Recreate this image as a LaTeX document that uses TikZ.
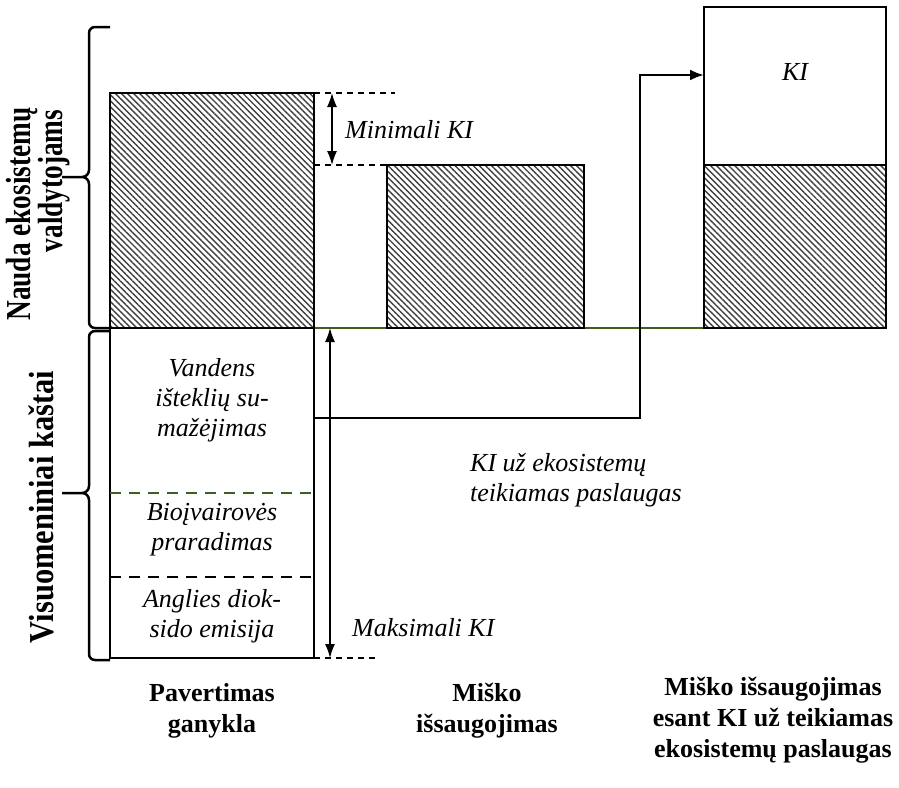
\documentclass[tikz,border=0pt]{standalone}
\usepackage{fontspec}
\setmainfont{Liberation Serif}
\newfontfamily\tallserif[FakeStretch=0.78]{Liberation Serif}
\newfontfamily\tallserifb[FakeStretch=0.87]{Liberation Serif}
\usetikzlibrary{arrows.meta,patterns.meta}
\definecolor{dkgreen}{RGB}{62,94,34}

\tikzset{
  bar/.style={draw,line width=2.5pt,anchor=north west,inner sep=0pt,outer sep=0pt},
  hatched/.style={bar,pattern={Lines[angle=-45,distance=4.3pt,line width=1.4pt]},pattern color=black!75},
  guide/.style={line width=1.2pt,dash pattern=on 6pt off 5pt},
  dim/.style={line width=1.3pt,{Latex[length=14pt,width=10pt]}-{Latex[length=14pt,width=10pt]}},
  sep/.style={line width=2.5pt,dash pattern=on 11pt off 8pt},
  brc/.style={line width=2.5pt,line join=round},
  lbl/.style={font=\fontsize{26}{30}\selectfont\itshape,align=center,inner sep=0pt},
  head/.style={font=\fontsize{26}{31}\selectfont\bfseries,align=center,inner sep=0pt},
  side/.style={font=\tallserif\fontsize{35}{32}\selectfont\bfseries,inner sep=0pt,rotate=90}
}

\begin{document}
\begin{tikzpicture}[x=1pt,y=-1pt]
  \useasboundingbox (0,0) rectangle (899,787);

  %% green base line (under the bars)
  \coordinate (basew) at (314,328);
  \coordinate (basee) at (704,328);
  \draw[dkgreen,line width=2.8pt] (basew) -- (basee);

  %% bars
  \node[hatched,minimum width=204pt,minimum height=235pt] (pasture) at (110,93) {};
  \node[bar,minimum width=204pt,minimum height=330pt] (costs) at (110,328) {};
  \node[hatched,minimum width=197pt,minimum height=163pt] (forest) at (387,165) {};
  \node[hatched,minimum width=182pt,minimum height=163pt] (forestki) at (704,165) {};
  \node[bar,minimum width=182pt,minimum height=158pt] (kibox) at (704,7) {};
  \node[lbl] (ki) at (795,72) {KI};

  %% cost parts
  \coordinate (sepa) at (110,493);
  \coordinate (sepb) at (110,577);
  \draw[sep,dkgreen] (sepa) -- (sepa -| costs.east);
  \draw[sep] (sepb) -- (sepb -| costs.east);
  \node[lbl] (water) at (212,400) {Vandens\\išteklių su-\\mažėjimas};
  \node[lbl] (bio) at (212,530) {Bioįvairovės\\praradimas};
  \node[lbl] (carbon) at (212,616) {Anglies diok-\\sido emisija};

  %% minimal and maximal KI
  \coordinate (mintop) at (332,93);
  \coordinate (minbot) at (332,165);
  \draw[guide] (pasture.north east) -- (395,93);
  \draw[guide] (pasture.east |- minbot) -- (395,165);
  \draw[dim] (mintop) -- (minbot);
  \node[lbl,anchor=west] (minki) at (345,130) {Minimali KI};

  \coordinate (maxtop) at (330,328);
  \coordinate (maxbot) at (330,658);
  \draw[guide] (costs.south east) -- (375,658);
  \draw[dim] (maxtop) -- (maxbot);
  \node[lbl,anchor=west] (maxki) at (352,628) {Maksimali KI};

  %% KI transfer
  \coordinate (kistart) at (314,418);
  \coordinate (kiturn) at (640,418);
  \coordinate (kiend) at (704,75);
  \draw[line width=2.5pt,-{Latex[length=14pt,width=11pt]}] (kistart) -- (kiturn) |- (kiend);
  \node[lbl,align=left,anchor=west] (kinote) at (470,480) {KI už ekosistemų\\teikiamas paslaugas};

  %% braces
  \draw[brc] (110,27) -- (95,27) to[out=180,in=90] (89,33) -- (89,170)
    to[out=-90,in=0] (82,177) -- (62,177) (82,177) to[out=0,in=90] (89,184)
    -- (89,322) to[out=-90,in=180] (95,328) -- (110,328);
  \draw[brc] (110,331) -- (95,331) to[out=180,in=90] (89,337) -- (89,486)
    to[out=-90,in=0] (82,493) -- (62,493) (82,493) to[out=0,in=90] (89,500)
    -- (89,654) to[out=-90,in=180] (95,660) -- (110,660);

  %% side labels
  \node[side] (benefit) at (22,214) {Nauda ekosistemų};
  \node[side] (benefitb) at (54,181) {valdytojams};
  \node[side,font=\tallserifb\fontsize{35}{32}\selectfont\bfseries] (social) at (41,507) {Visuomeniniai kaštai};

  %% column titles
  \node[head] (t1) at (212,711) {Pavertimas\\ganykla};
  \node[head] (t2) at (487,711) {Miško\\išsaugojimas};
  \node[head] (t3) at (773,720) {Miško išsaugojimas\\esant KI už teikiamas\\ekosistemų paslaugas};
\end{tikzpicture}
\end{document}
